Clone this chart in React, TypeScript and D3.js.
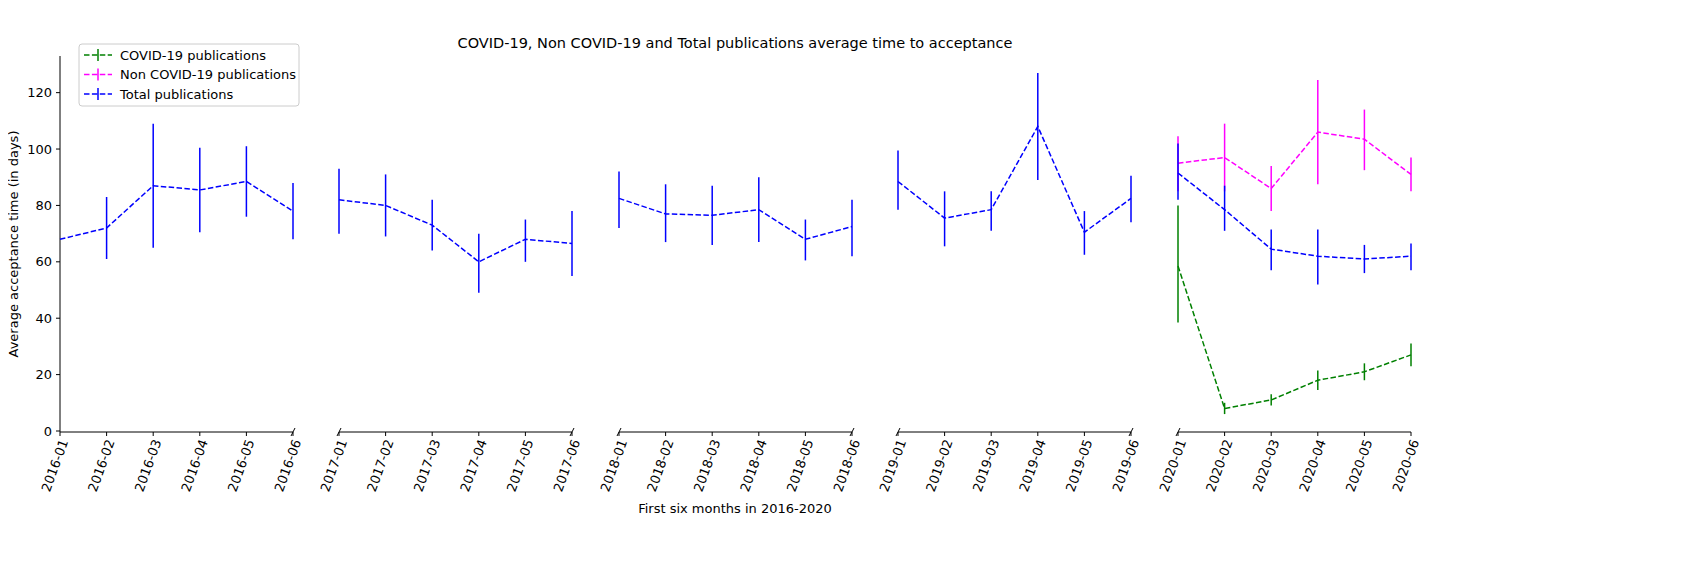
import * as d3 from 'd3'

const years = ['2016', '2017', '2018', '2019', '2020']
const months = ['01', '02', '03', '04', '05', '06']

// [value, low, high] per month
const total: [number, number, number][][] = [
  [[68, 68, 68], [72, 61, 83], [87, 65, 109], [85.5, 70.5, 100.5], [88.5, 76, 101], [78, 68, 88]],
  [[82, 70, 93], [80, 69, 91], [73, 64, 82], [60, 49, 70], [68, 60, 75], [66.5, 55, 78]],
  [[82.5, 72, 92], [77, 67, 87.5], [76.5, 66, 87], [78.5, 67, 90], [68, 60.5, 75], [72.5, 62, 82]],
  [[88.5, 78.5, 99.5], [75.5, 65.5, 85], [78.5, 71, 85], [108, 89, 127], [70.5, 62.5, 78], [82.5, 74, 90.5]],
  [[91.5, 82, 102], [78.5, 71, 87], [64.5, 57, 71.5], [62, 52, 71.5], [61, 56, 66], [62, 57, 66.5]],
]
const nonCovid2020: [number, number, number][] = [
  [95, 85, 104.5], [97, 85, 109], [86, 78, 94], [106, 87.5, 124.5], [103.5, 92.5, 114], [91, 85, 97],
]
const covid2020: [number, number, number][] = [
  [58.5, 38.5, 80], [8, 6, 10], [11, 9, 13], [18, 14.5, 21.5], [21, 18, 24], [27, 23, 31],
]
const yTicks = [0, 20, 40, 60, 80, 100, 120]

const panelLeft = [52, 331, 611, 890, 1170]
const panelW = 233
const top = 48
const bottom = 424

export default function App() {
  const y = d3.scaleLinear().domain([0, 133]).range([423, top])
  const font = 'DejaVu Sans, sans-serif'
  const line = (xs: d3.ScaleLinear<number, number>) =>
    d3.line<[number, number, number]>().x((_, i) => xs(i)).y(d => y(d[0]))

  const series = (xs: d3.ScaleLinear<number, number>, data: [number, number, number][], color: string, key: string) => (
    <g key={key}>
      <path d={line(xs)(data) ?? ''} fill="none" stroke={color} strokeWidth={1.5} strokeDasharray="5.5,2.4" />
      {data.map((d, i) => (
        <line key={i} x1={xs(i)} x2={xs(i)} y1={y(d[1])} y2={y(d[2])} stroke={color} strokeWidth={1.5} />
      ))}
    </g>
  )

  return (
    <svg width={1660} height={550} style={{ display: 'block' }} fontFamily={font}>
      <text x={727} y={40} textAnchor="middle" fontSize={14.5}>
        COVID-19, Non COVID-19 and Total publications average time to acceptance
      </text>
      {/* y axis */}
      <line x1={52} x2={52} y1={top} y2={bottom} stroke="black" />
      {yTicks.map(t => (
        <g key={t}>
          <line x1={48} x2={52} y1={y(t)} y2={y(t)} stroke="black" />
          <text x={44} y={y(t)} dy="0.35em" textAnchor="end" fontSize={13}>{t}</text>
        </g>
      ))}
      <text transform={`translate(10,${(top + bottom) / 2}) rotate(-90)`} textAnchor="middle" fontSize={13}>
        Average acceptance time (in days)
      </text>
      {years.map((yr, p) => {
        const xs = d3.scaleLinear().domain([0, 5]).range([panelLeft[p], panelLeft[p] + panelW])
        return (
          <g key={yr}>
            <line x1={panelLeft[p]} x2={panelLeft[p] + panelW} y1={bottom} y2={bottom} stroke="black" />
            {p > 0 && (
              <path d={`M${panelLeft[p] - 2},${bottom + 4}L${panelLeft[p] + 2},${bottom - 4}`} stroke="black" />
            )}
            {p < 4 && (
              <path d={`M${panelLeft[p] + panelW - 2},${bottom + 4}L${panelLeft[p] + panelW + 2},${bottom - 4}`} stroke="black" />
            )}
            {months.map((m, i) => (
              <g key={m} transform={`translate(${xs(i)},${bottom})`}>
                <line y2={4} stroke="black" />
                <text transform="translate(4,8) rotate(-70)" textAnchor="end" dy="0.35em" fontSize={13}>
                  {yr}-{m}
                </text>
              </g>
            ))}
            {p === 4 && series(xs, covid2020, 'green', 'c')}
            {p === 4 && series(xs, nonCovid2020, 'magenta', 'n')}
            {series(xs, total[p], 'blue', 't')}
          </g>
        )
      })}
      <text x={727} y={505} textAnchor="middle" fontSize={13}>First six months in 2016-2020</text>
      {/* legend */}
      <g transform="translate(71,36)">
        <rect width={220} height={62} rx={3} fill="white" stroke="#ccc" />
        {[['COVID-19 publications', 'green'], ['Non COVID-19 publications', 'magenta'], ['Total publications', 'blue']].map(([l, c], i) => (
          <g key={l} transform={`translate(0,${11 + i * 19.5})`}>
            <line x1={5} x2={33} stroke={c} strokeWidth={1.5} strokeDasharray="5.5,2.4" />
            <line x1={19} x2={19} y1={-6} y2={6} stroke={c} strokeWidth={1.5} />
            <text x={41} dy="0.35em" fontSize={13}>{l}</text>
          </g>
        ))}
      </g>
    </svg>
  )
}
